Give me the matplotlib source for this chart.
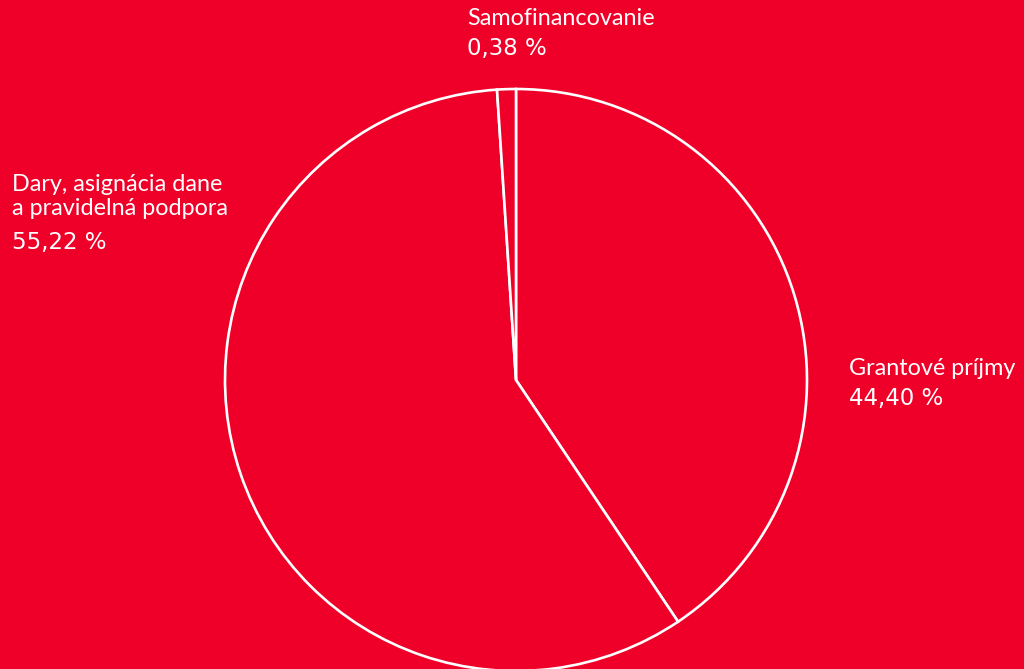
import matplotlib.pyplot as plt

# values as drawn (slice sizes) and the printed labels
names = ['Grantové príjmy', 'Dary, asignácia dane\na pravidelná podpora', 'Samofinancovanie']
shares = [40.6, 58.36, 1.04]
pct_labels = ['44,40 %', '55,22 %', '0,38 %']

bg = '#EF0028'
W, H = 1024, 669

fig = plt.figure(figsize=(W / 100, H / 100), dpi=100, facecolor=bg)
ax = fig.add_axes([0, 0, 1, 1])
ax.set_facecolor(bg)

ax.pie(shares, colors=[bg] * 3, startangle=90, counterclock=False,
       center=(516, H - 380), radius=291,
       wedgeprops=dict(edgecolor='white', linewidth=1.9))

ax.set_xlim(0, W)
ax.set_ylim(0, H)
ax.set_aspect('equal')
ax.axis('off')

# label positions in pixels (left, top)
pos = [(849, 358), (12, 174), (467, 8)]
for (x, y), n, p in zip(pos, names, pct_labels):
    nlines = n.count('\n') + 1
    ax.text(x, H - y, n, color='white', fontsize=16.8, family='Lato',
            va='top', ha='left', linespacing=1.2)
    ax.text(x, H - y - nlines * 28 - 1, p, color='white', fontsize=16.5,
            family='DejaVu Sans', va='top', ha='left')

plt.savefig('out.png', dpi=100, facecolor=bg)
